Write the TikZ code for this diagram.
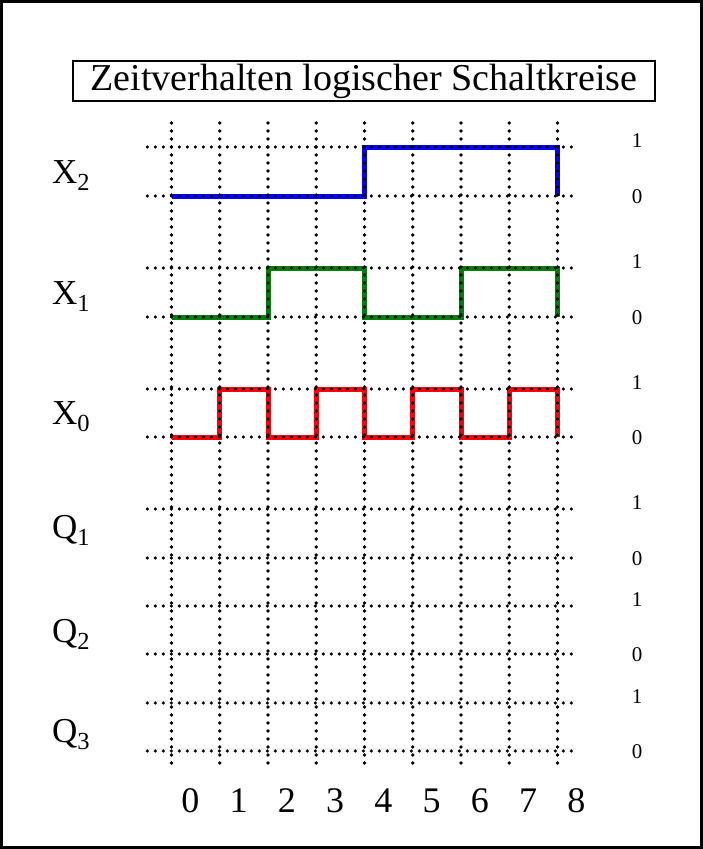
\documentclass[tikz,border=0pt]{standalone}
\usepackage{fontspec}
\setmainfont{Liberation Serif}
\usepackage{xcolor}
\definecolor{sigblue}{RGB}{0,0,255}
\definecolor{siggreen}{RGB}{0,128,0}
\definecolor{sigred}{RGB}{255,0,0}
\tikzset{fig/.style={x=1pt,y=-1pt,line join=miter},
  gridline/.style={black,line width=3.6pt,line cap=round,dash pattern=on 0pt off 8pt},
  signal/.style={line width=5pt,line join=miter},
  siglabel/.style={anchor=base west,inner sep=0pt,font=\fontsize{35}{37}\selectfont},
  level/.style={anchor=base,inner sep=0pt,font=\fontsize{21}{23}\selectfont},
  tick/.style={anchor=base,inner sep=0pt,font=\fontsize{36}{38}\selectfont}}
\newcommand{\levels}[3]{\node[level](#1one)at(637,#2){1};\node[level](#1zero)at(637,#3+7){0};}

\begin{document}
\begin{tikzpicture}[fig]
  \useasboundingbox (0,0) rectangle (703,849);
  \draw[line width=3pt] (1.5,1.5) rectangle (701.5,847.5);
  \node[draw,line width=1.5pt,inner sep=0pt,minimum width=582pt,minimum height=40pt,
        font=\fontsize{38}{40}\selectfont] (title) at (364,81) {Zeitverhalten logischer Schaltkreise};
  % signals under the grid, time axis in units of one clock step
  \begin{scope}[shift={(171.5,0)},x=48.25pt]
    \draw[signal,sigblue] (0,196) -| (4,147) -| (8,196);
    \draw[signal,siggreen] (0,317) -| (2,268) -| (4,317) -| (6,268) -| (8,317);
    \draw[signal,sigred] (0,437) -| (1,389) -| (2,437) -| (3,389) -| (4,437)
      -| (5,389) -| (6,437) -| (7,389) -| (8,437);
    \foreach \k in {0,...,8}{\draw[gridline] (\k,123) -- (\k,768);
      \node[tick] (t\k) at (\k+0.39,812) {\k};}
    \foreach \y in {147,196,268,317,389,437,509,558,606,654,703,751}
      \draw[gridline] (-0.5,\y) -- (8.42,\y);
  \end{scope}
  \node[siglabel] (x2) at (52,183) {X\textsubscript{2}};
  \node[siglabel] (x1) at (52,304) {X\textsubscript{1}};
  \node[siglabel] (x0) at (52,424) {X\textsubscript{0}};
  \node[siglabel] (q1) at (52,538) {Q\textsubscript{1}};
  \node[siglabel] (q2) at (52,642) {Q\textsubscript{2}};
  \node[siglabel] (q3) at (52,742) {Q\textsubscript{3}};
  \levels{x2}{147}{196}\levels{x1}{268}{317}\levels{x0}{389}{437}
  \levels{q1}{509}{558}\levels{q2}{606}{654}\levels{q3}{703}{751}
\end{tikzpicture}
\end{document}
